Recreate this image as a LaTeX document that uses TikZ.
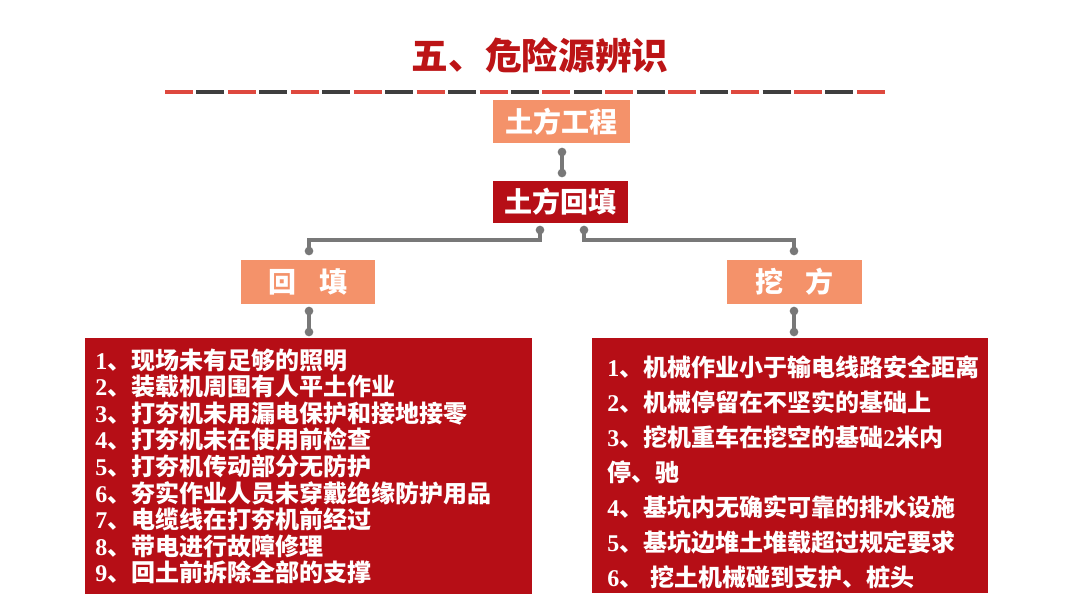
\documentclass[tikz,border=0pt]{standalone}
\usepackage{fontspec}
\setmainfont{Liberation Serif}
\newfontfamily\cjk{Noto Sans CJK SC}
\usetikzlibrary{calc}
\definecolor{boxred}{RGB}{182,14,22}
\definecolor{titlered}{RGB}{188,20,22}
\definecolor{boxorange}{RGB}{244,146,106}
\definecolor{linkgray}{RGB}{120,120,120}
\definecolor{dashred}{RGB}{222,72,62}
\definecolor{dashdark}{RGB}{62,62,62}
\newcommand\hazitem[2]{{\bfseries #1}{\cjk\bfseries 、#2}}
\tikzset{
  orangebox/.style={fill=boxorange, text=white, inner sep=0pt, font=\cjk\bfseries\fontsize{21}{24}\selectfont},
  redbox/.style={fill=boxred, text=white, inner sep=0pt, font=\cjk\bfseries\fontsize{21}{24}\selectfont},
  listbox/.style={fill=boxred, inner sep=0pt},
  itemtext/.style={text=white, inner sep=0pt, anchor=base west, font=\fontsize{18}{20}\selectfont},
  link/.style={draw=linkgray, line width=2.4pt},
  dot/.style={circle, fill=linkgray, inner sep=0pt, minimum size=6.5pt},
}
\begin{document}
\begin{tikzpicture}[x=0.75pt,y=-0.75pt]
\fill[white] (0,0) rectangle (1080,608);
\useasboundingbox (0,0) rectangle (1080,608);

% title
\node[inner sep=0pt, text=titlered, font=\cjk\bfseries\fontsize{27.5}{30}\selectfont] (title) at (540,55) {五、危险源辨识};

% dashed rule
\foreach \i in {0,...,22}{
  \pgfmathsetmacro\xa{165+\i*31.45}
  \pgfmathsetmacro\xb{\xa+28}
  \ifodd\i
    \draw[dashdark, line width=3.2pt] (\xa,92) -- (\xb,92);
  \else
    \draw[dashred, line width=3.2pt] (\xa,92) -- (\xb,92);
  \fi
}

% boxes
\node[orangebox, minimum width=102.75pt, minimum height=32.25pt] (gc) at (561.5,121.5) {土方工程};
\node[redbox, minimum width=101.25pt, minimum height=31.5pt] (ht) at (560.5,202) {土方回填};
\node[orangebox, minimum width=100.5pt, minimum height=33pt] (hf) at (308,282) {回\hspace{0.8em}填};
\node[orangebox, minimum width=101.25pt, minimum height=33pt] (wf) at (794.5,282) {挖\hspace{0.8em}方};
\node[listbox, minimum width=335.25pt, minimum height=192pt] (lb) at (308.5,466) {};
\node[listbox, minimum width=297pt, minimum height=191.25pt] (rb) at (790,465.5) {};

% connector dots
\node[dot] (d1) at (562,152) {};
\node[dot] (d2) at (562,173) {};
\node[dot] (d3) at (540,230) {};
\node[dot] (d4) at (584,230) {};
\node[dot] (d5) at (309,251) {};
\node[dot] (d6) at (794,251) {};
\node[dot] (d7) at (309,311) {};
\node[dot] (d8) at (309,332) {};
\node[dot] (d9) at (794,311) {};
\node[dot] (d10) at (794,332) {};

\draw[link] (d1.center) -- (d2.center);
\draw[link] (d3.center) -- ++(0,10) -| (d5.center);
\draw[link] (d4.center) -- ++(0,10) -| (d6.center);
\draw[link] (d7.center) -- (d8.center);
\draw[link] (d9.center) -- (d10.center);

% left list
\foreach \n/\t [count=\k from 0] in {
  1/现场未有足够的照明,
  2/装载机周围有人平土作业,
  3/打夯机未用漏电保护和接地接零,
  4/打夯机未在使用前检查,
  5/打夯机传动部分无防护,
  6/夯实作业人员未穿戴绝缘防护用品,
  7/电缆线在打夯机前经过,
  8/带电进行故障修理,
  9/回土前拆除全部的支撑}{
  \node[itemtext] (l\n) at (95,{369+\k*26.6}) {\hazitem{\n}{\t}};
}

% right list
\node[itemtext] (r1) at (607,376) {\hazitem{1}{机械作业小于输电线路安全距离}};
\node[itemtext] (r2) at (607,411) {\hazitem{2}{机械停留在不坚实的基础上}};
\node[itemtext] (r3) at (607,446) {\hazitem{3}{挖机重车在挖空的基础{\rmfamily\bfseries 2}米内}};
\node[itemtext] (r3b) at (607,481) {\cjk\bfseries 停、驰};
\node[itemtext] (r4) at (607,516) {\hazitem{4}{基坑内无确实可靠的排水设施}};
\node[itemtext] (r5) at (607,551) {\hazitem{5}{基坑边堆土堆载超过规定要求}};
\node[itemtext] (r6) at (607,586) {\hazitem{6}{\hspace{0.3em}挖土机械碰到支护、桩头}};
\end{tikzpicture}
\end{document}
